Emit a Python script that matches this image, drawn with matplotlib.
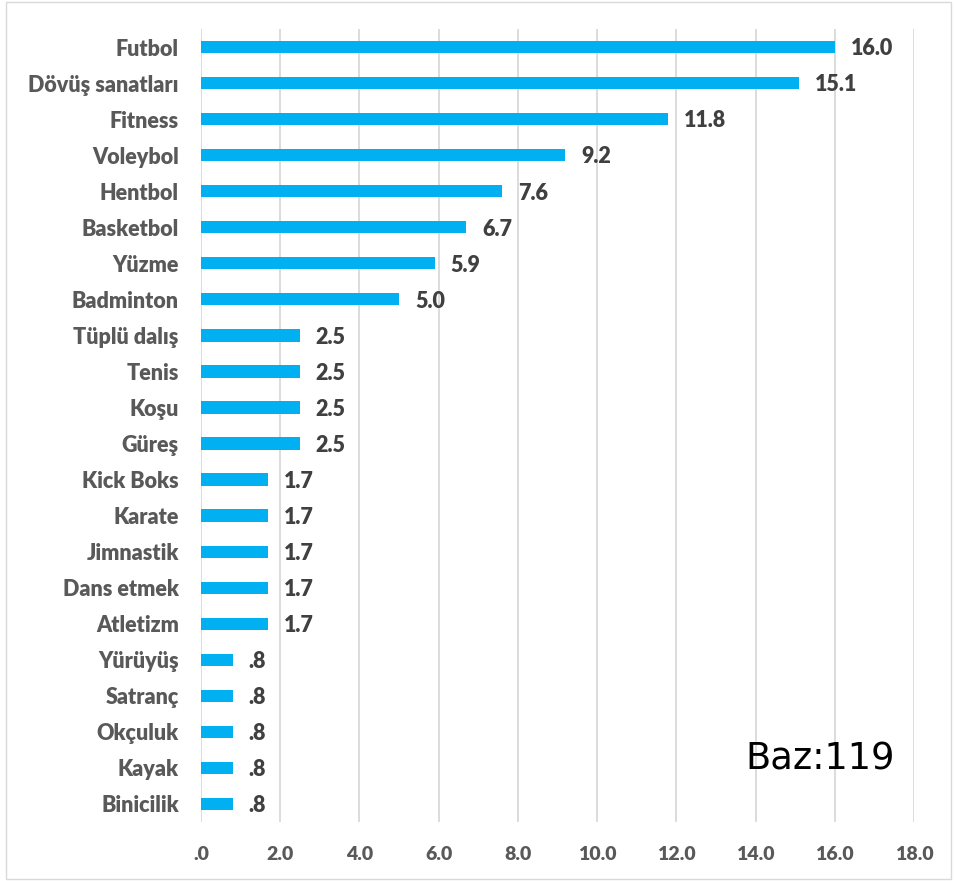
import matplotlib.pyplot as plt
from matplotlib.patches import Rectangle

categories = [
    "Futbol", "Dövüş sanatları", "Fitness", "Voleybol", "Hentbol", "Basketbol",
    "Yüzme", "Badminton", "Tüplü dalış", "Tenis", "Koşu", "Güreş", "Kick Boks",
    "Karate", "Jimnastik", "Dans etmek", "Atletizm", "Yürüyüş", "Satranç",
    "Okçuluk", "Kayak", "Binicilik",
]
values = [16.0, 15.1, 11.8, 9.2, 7.6, 6.7, 5.9, 5.0, 2.5, 2.5, 2.5, 2.5,
          1.7, 1.7, 1.7, 1.7, 1.7, 0.8, 0.8, 0.8, 0.8, 0.8]
xticks = [0, 2, 4, 6, 8, 10, 12, 14, 16, 18]


def fmt(v):
    s = f"{v:.1f}"
    return s[1:] if s.startswith("0") else s


plt.rcParams["font.family"] = ["Lato", "DejaVu Sans"]

fig = plt.figure(figsize=(9.55, 8.81), dpi=100)
ax = fig.add_axes([201 / 955, 1 - 822 / 881, (914 - 201) / 955, (822 - 29) / 881])

pos = list(range(len(categories)))
ax.barh(pos, values, height=0.34, color="#00B0F0", zorder=3)
for y, v in zip(pos, values):
    ax.text(v + 0.4, y + 0.05, fmt(v), va="center", ha="left", fontsize=15.5,
            fontweight="heavy", color="#404040")

ax.set_ylim(len(categories) - 0.5, -0.5)
ax.set_xlim(0, 18)
ax.set_yticks(pos)
ax.set_yticklabels(categories)
ax.set_xticks(xticks)
ax.set_xticklabels([fmt(float(t)) for t in xticks])
for lab in ax.get_yticklabels():
    lab.set_fontweight("heavy")
    lab.set_color("#595959")
    lab.set_fontsize(15.5)
for lab in ax.get_xticklabels():
    lab.set_fontweight("heavy")
    lab.set_color("#595959")
    lab.set_fontsize(14)
ax.tick_params(length=0)
ax.tick_params(axis="y", pad=16)
ax.tick_params(axis="x", pad=17)
ax.grid(axis="x", color="#D9D9D9", linewidth=1.3, zorder=0)
for s in ax.spines.values():
    s.set_visible(False)

ax.text(0.9725, 0.079, "Baz:119", transform=ax.transAxes, ha="right", va="center",
        fontsize=26.5, color="black", family="DejaVu Sans")

fig.patches.append(Rectangle((6 / 955, 0.002), 0.99, 0.996, transform=fig.transFigure,
                             fill=False, edgecolor="#D9D9D9", linewidth=1))

plt.savefig("out.png", dpi=100)
